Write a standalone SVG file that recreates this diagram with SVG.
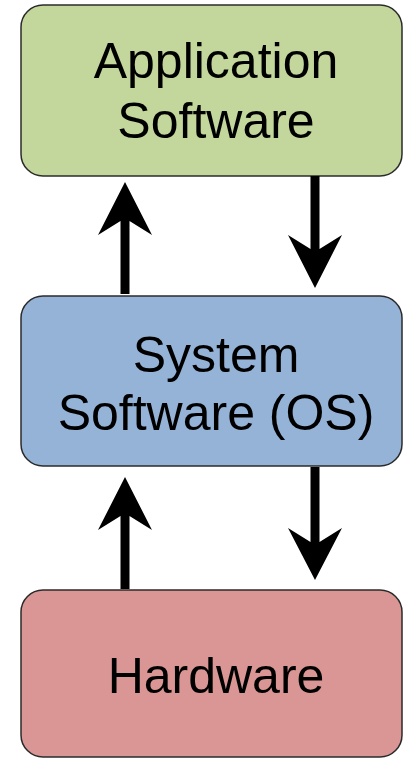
<svg xmlns="http://www.w3.org/2000/svg" width="403" height="759" viewBox="0 0 403 759">
<style>
.box{stroke:#2b2b2b;stroke-width:1.5}
.lbl{font-family:"Liberation Sans",Arial,sans-serif;font-size:50px;fill:#000;text-anchor:middle}
.arr{fill:#000}
</style>
<rect width="403" height="759" fill="#fff"/>
<g id="app">
<rect class="box" x="21" y="5" width="381" height="171" rx="22" fill="#c3d69b"/>
<text class="lbl" x="216" y="78">Application</text>
<text class="lbl" x="216" y="138">Software</text>
</g>
<g id="os">
<rect class="box" x="21" y="296" width="381" height="170" rx="22" fill="#95b3d7"/>
<text class="lbl" x="216" y="372">System</text>
<text class="lbl" x="216" y="430">Software (OS)</text>
</g>
<g id="hw">
<rect class="box" x="21" y="590" width="381" height="167" rx="22" fill="#d99694"/>
<text class="lbl" x="216" y="693">Hardware</text>
</g>
<g id="connectors">
<path class="arr" d="M125,182 L152,235 L129.5,221 L129.5,294 L120.5,294 L120.5,221 L98,235 Z"/>
<path class="arr" d="M315,288 L342,235 L319.5,249 L319.5,176 L310.5,176 L310.5,249 L288,235 Z"/>
<path class="arr" d="M125,477 L152,530 L129.5,516 L129.5,589 L120.5,589 L120.5,516 L98,530 Z"/>
<path class="arr" d="M315,580 L342,528 L319.5,542 L319.5,467 L310.5,467 L310.5,542 L288,528 Z"/>
</g>
</svg>
